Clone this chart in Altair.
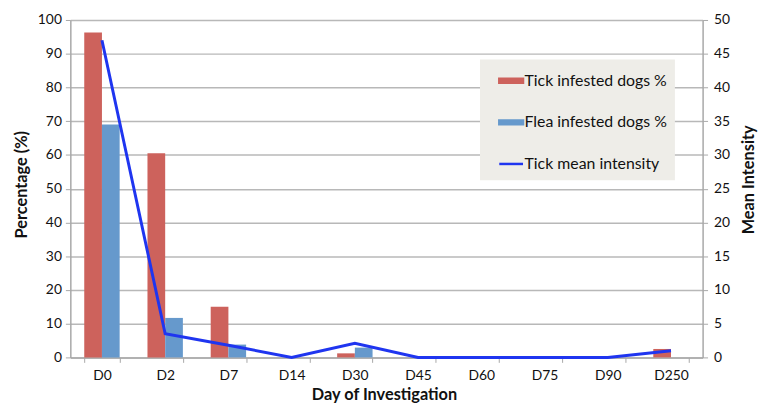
import altair as alt
import pandas as pd

days = ["D0", "D2", "D7", "D14", "D30", "D45", "D60", "D75", "D90", "D250"]
tick_pct = [96.3, 60.5, 15.0, 0, 1.2, 0, 0, 0, 0, 2.5]
flea_pct = [69.0, 11.7, 3.8, 0, 2.9, 0, 0, 0, 0, 0]
tick_intensity = [47.0, 3.5, 1.8, 0, 2.1, 0, 0, 0, 0, 1.0]

s_tick = "Tick infested dogs %"
s_flea = "Flea infested dogs %"
s_line = "Tick mean intensity"
series = [s_tick, s_flea, s_line]
colors = ["#CD625C", "#6699CC", "#1F35F0"]

bars_df = pd.DataFrame({
    "day": days * 2,
    "series": [s_tick] * len(days) + [s_flea] * len(days),
    "value": tick_pct + flea_pct,
})
line_df = pd.DataFrame({"day": days, "series": s_line, "value": tick_intensity})

FONT = "Lato"

x_enc = alt.X(
    "day:N", sort=days,
    scale=alt.Scale(paddingInner=0.44, paddingOuter=0.22),
    axis=alt.Axis(title="Day of Investigation", labelAngle=0, tickBand="extent",
                  labelFontSize=14, labelPadding=6, tickSize=5,
                  titleFontSize=16.5, titleFontWeight="bold",
                  titleY=46, titleBaseline="bottom", titleX=317),
)

color_enc = alt.Color(
    "series:N",
    scale=alt.Scale(domain=series, range=colors),
    legend=alt.Legend(
        orient="none", legendX=414, legendY=40, title=None,
        fillColor="#EEEDE8", padding=8, rowPadding=20,
        labelFontSize=16, labelOffset=0, symbolOffset=10, symbolSize=576,
        labelLimit=400,
        labelExpr="datum.label + '\u2007'",
        symbolType={"expr": "datum.value == 'Tick mean intensity' ? 'M-1,0H1' : 'M-1,-0.167H1V0.167H-1Z'"},
        symbolFillColor={"expr": "datum.value == 'Tick mean intensity' ? 'transparent' : scale('color', datum.value)"},
        symbolStrokeColor={"expr": "datum.value == 'Tick mean intensity' ? scale('color', datum.value) : 'transparent'"},
        symbolStrokeWidth=2.5, symbolOpacity=1,
    ),
)

bars = alt.Chart(bars_df).mark_bar().encode(
    x=x_enc,
    xOffset=alt.XOffset("series:N", sort=[s_tick, s_flea],
                        scale=alt.Scale(domain=[s_tick, s_flea], paddingInner=0, paddingOuter=0)),
    y=alt.Y("value:Q", scale=alt.Scale(domain=[0, 100]),
            axis=alt.Axis(title="Percentage (%)", values=list(range(0, 101, 10)),
                          grid=True, labelFontSize=14, tickSize=5, labelPadding=4,
                          titleFontSize=16.5, titleFontWeight="bold",
                          titleX=-49, titleY=166, titleBaseline="middle")),
    color=color_enc,
)

line = alt.Chart(line_df).mark_line(strokeWidth=3).encode(
    x=alt.X("day:N", sort=days),
    y=alt.Y("value:Q", scale=alt.Scale(domain=[0, 50]),
            axis=alt.Axis(orient="right", title="Mean Intensity",
                          values=list(range(0, 51, 5)), grid=False,
                          labelFontSize=14, tickSize=5, labelPadding=6,
                          titleFontSize=16.5, titleFontWeight="bold", titleAngle=270,
                          titleX=46, titleY=161, titleBaseline="middle")),
    color=alt.Color("series:N", scale=alt.Scale(domain=series, range=colors)),
)

chart = alt.layer(bars, line).resolve_scale(y="independent").properties(
    width=639, height=341,
    autosize=alt.AutoSizeParams(type="none"),
    padding={"left": 63, "top": 10, "right": 58, "bottom": 47},
).configure(font=FONT).configure_view(stroke=None).configure_axis(
    domainColor="#A8A8A8", tickColor="#A8A8A8", gridColor="#B8B8B8",
    labelColor="#111111", titleColor="#111111", domainWidth=1.5, gridWidth=1.5,
).configure_legend(labelColor="#111111")

chart.save("out.html", embed_options={"renderer": "svg", "actions": False})
